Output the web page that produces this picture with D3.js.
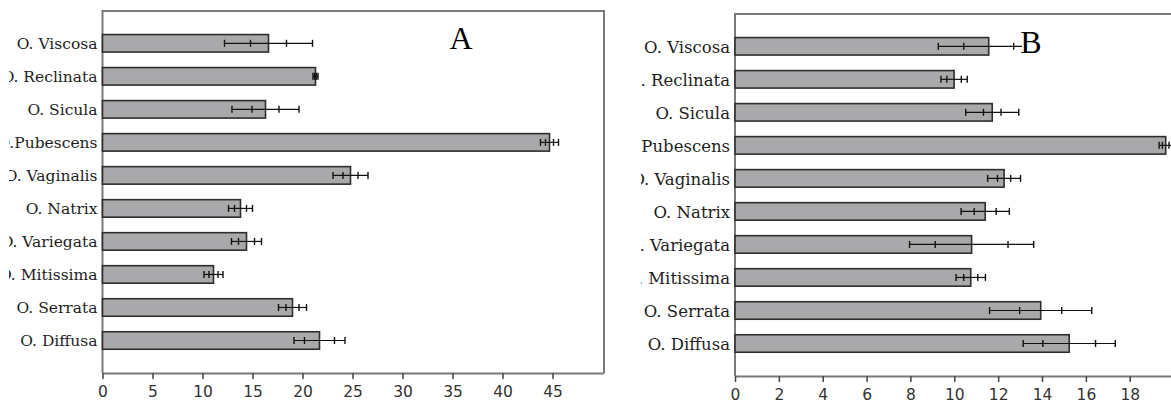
<!DOCTYPE html>
<html>
<head>
<meta charset="utf-8">
<script src="https://cdn.jsdelivr.net/npm/d3@7"></script>
<style>
  html, body { margin: 0; padding: 0; background: #fff; }
  svg { display: block; }
</style>
</head>
<body>
<svg id="chart" width="1171" height="405"></svg>
<script>
// Species, top to bottom
const categories = ["O. Viscosa", "O. Reclinata", "O. Sicula", "O.Pubescens", "O. Vaginalis",
                    "O. Natrix", "O. Variegata", "O. Mitissima", "O. Serrata", "O. Diffusa"];

// Panel A: means, outer whisker half-width, inner marker half-width
const meanA  = [16.6, 21.3, 16.3, 44.7, 24.8, 13.8, 14.4, 11.1, 19.0, 21.7];
const outerA = [4.4, 0.25, 3.35, 0.9, 1.75, 1.2, 1.5, 0.95, 1.4, 2.55];
const innerA = [1.8, 0.1, 1.35, 0.4, 0.75, 0.6, 0.8, 0.45, 0.65, 1.5];
const ticksA = [0, 5, 10, 15, 20, 25, 30, 35, 40, 45];

// Panel B
const meanB  = [11.57, 9.99, 11.73, 19.64, 12.27, 11.41, 10.79, 10.75, 13.94, 15.24];
const outerB = [2.3, 0.6, 1.21, 0.3, 0.75, 1.1, 2.83, 0.67, 2.33, 2.1];
const innerB = [1.14, 0.33, 0.4, 0.15, 0.3, 0.5, 1.66, 0.32, 0.96, 1.2];
const ticksB = [0, 2, 4, 6, 8, 10, 12, 14, 16, 18];

const svg = d3.select("#chart");

function panel(cfg) {
  const clipId = "clip-" + cfg.letter;
  svg.append("clipPath").attr("id", clipId)
    .append("rect").attr("x", cfg.clipX).attr("y", 0)
    .attr("width", 1171 - cfg.clipX).attr("height", 405);

  const g = svg.append("g").attr("clip-path", `url(#${clipId})`);

  const x = d3.scaleLinear().domain(cfg.xDomain).range(cfg.xRange);
  const y = d3.scalePoint().domain(categories).range(cfg.yRange);
  const barH = 17.5;
  const rows = categories.map((c, i) => ({c, m: cfg.mean[i], o: cfg.outer[i], n: cfg.inner[i]}));

  // Frame
  const left = x(0);
  g.append("path")
    .attr("d", `M${left},${cfg.axisY} V${cfg.top} H${cfg.right} V${cfg.axisY}`)
    .attr("fill", "none").attr("stroke", "#7a7a7a").attr("stroke-width", 2);

  // Bars
  g.selectAll("rect.bar").data(rows).join("rect")
    .attr("class", "bar")
    .attr("x", left)
    .attr("y", d => y(d.c) - barH / 2)
    .attr("width", d => x(d.m) - left)
    .attr("height", barH)
    .attr("fill", "#a9a8aa")
    .attr("stroke", "#2e2e2e")
    .attr("stroke-width", 1.6);

  // Error bars: whisker line plus four ticks
  const eb = g.selectAll("g.err").data(rows).join("g").attr("class", "err")
    .attr("transform", d => `translate(0,${y(d.c)})`);
  eb.append("line")
    .attr("x1", d => x(d.m - d.o)).attr("x2", d => x(d.m + d.o))
    .attr("stroke", "#111").attr("stroke-width", 1.2);
  eb.selectAll("line.tk")
    .data(d => [d.m - d.o, d.m - d.n, d.m + d.n, d.m + d.o])
    .join("line").attr("class", "tk")
    .attr("x1", v => x(v)).attr("x2", v => x(v))
    .attr("y1", -3.5).attr("y2", 3.5)
    .attr("stroke", "#111").attr("stroke-width", 1.4);

  // Category labels
  g.selectAll("text.cat").data(rows).join("text")
    .attr("class", "cat")
    .attr("x", left - 5)
    .attr("y", d => y(d.c))
    .attr("dy", "0.38em")
    .attr("text-anchor", "end")
    .attr("font-family", "DejaVu Serif")
    .attr("font-size", cfg.labelSize)
    .attr("fill", "#1e1e1e")
    .text(d => d.c);

  // X axis
  const axis = g.append("g").attr("transform", `translate(0,${cfg.axisY})`)
    .call(d3.axisBottom(x).tickValues(cfg.ticks).tickSize(6).tickPadding(7).tickSizeOuter(0));
  axis.select(".domain").attr("stroke", "#7a7a7a").attr("stroke-width", 2)
    .attr("d", `M${left},0.5H${cfg.right}`);
  axis.selectAll(".tick line").attr("stroke", "#444").attr("stroke-width", 1.5);
  axis.selectAll(".tick text")
    .attr("font-family", "DejaVu Sans").attr("font-size", 15.5).attr("fill", "#333");

  // Panel letter
  if (cfg.letterBox) {
    g.append("rect").attr("x", cfg.letterX - 9).attr("y", cfg.letterY - 22)
      .attr("width", 22).attr("height", 24).attr("fill", "#fff");
  }
  g.append("text")
    .attr("x", cfg.letterX).attr("y", cfg.letterY)
    .attr("text-anchor", "middle")
    .attr("font-family", "Liberation Serif")
    .attr("font-size", 32)
    .attr("fill", "#000")
    .text(cfg.letter);
}

panel({
  letter: "A", clipX: 9, labelSize: 15.5,
  mean: meanA, outer: outerA, inner: innerA, ticks: ticksA,
  xDomain: [0, 50], xRange: [102.5, 602.5],
  yRange: [43.3, 340.5], top: 11, axisY: 373, right: 604,
  letterX: 461, letterY: 49, letterBox: false
});

panel({
  letter: "B", clipX: 641, labelSize: 16.5,
  mean: meanB, outer: outerB, inner: innerB, ticks: ticksB,
  xDomain: [0, 20], xRange: [735, 1173.6],
  yRange: [46.3, 343.5], top: 14, axisY: 376, right: 1180,
  letterX: 1031, letterY: 53, letterBox: true
});
</script>
</body>
</html>
